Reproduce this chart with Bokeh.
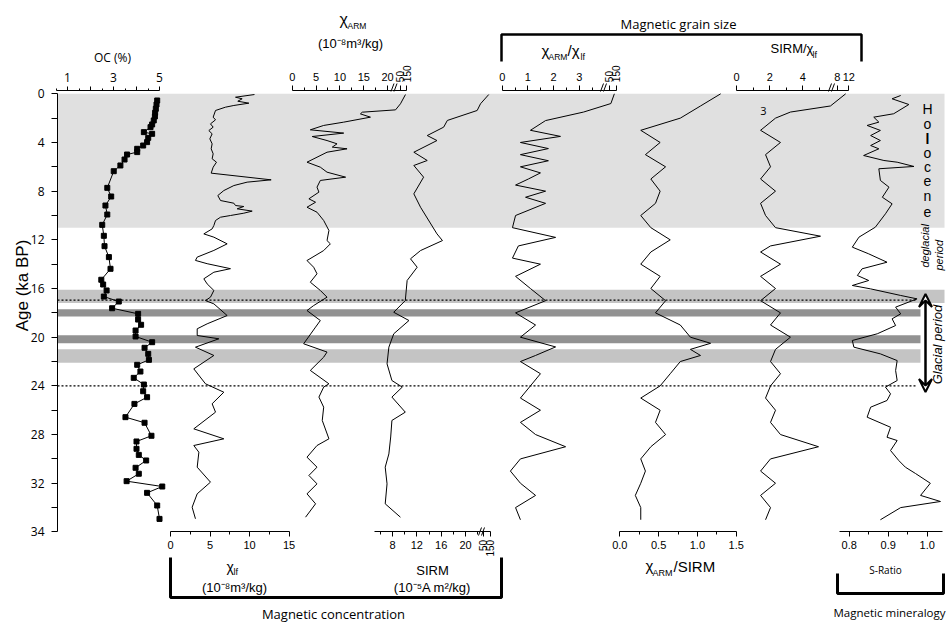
import math
import numpy as np
from bokeh.plotting import figure
from bokeh.models import Range1d, LinearAxis, FixedTicker, Label, Arrow, VeeHead
from bokeh.embed import file_html
from bokeh.resources import INLINE

# ---------------- data (ages in ka BP) ----------------
oc_age = [0.55, 0.88, 1.23, 1.56, 1.86, 2.19, 2.52, 2.74, 3.15, 3.29, 3.62, 3.97, 4.25, 4.52, 4.79, 4.99,
          5.40, 5.89, 6.36, 7.73, 8.44, 9.18, 9.92, 10.77, 11.67, 12.52, 13.42, 14.38, 15.28, 15.67, 16.16,
          16.66, 17.07, 17.62, 18.08, 18.55, 18.98, 19.45, 19.94, 20.41, 20.87, 21.37, 21.86, 22.27, 22.82,
          23.34, 23.89, 24.44, 24.93, 25.48, 26.57, 27.03, 28.10, 28.57, 29.17, 29.67, 30.13, 30.73, 31.22,
          31.83, 32.27, 32.79, 33.83, 34.93]
oc_val = [4.90, 4.87, 4.84, 4.81, 4.80, 4.75, 4.68, 4.61, 4.32, 4.68, 4.51, 4.46, 4.29, 4.03, 4.03, 3.59,
          3.48, 3.30, 3.01, 2.73, 2.90, 2.65, 2.73, 2.51, 2.58, 2.61, 2.80, 2.87, 2.47, 2.55, 2.70,
          2.58, 3.23, 2.94, 4.07, 4.07, 4.20, 3.96, 3.96, 4.68, 4.35, 4.51, 4.54, 4.03, 4.17,
          3.88, 4.32, 4.29, 4.46, 3.91, 3.52, 4.35, 4.65, 4.00, 4.00, 4.10, 4.42, 3.96, 4.10,
          3.57, 5.12, 4.46, 4.90, 5.00]

xlf_age = [0.06, 0.28, 0.41, 0.61, 0.77, 0.96, 1.10, 1.37, 1.92, 2.14, 2.47, 2.74, 3.02, 3.29, 3.70, 4.11,
           4.52, 4.93, 5.34, 5.62, 6.03, 6.52, 7.07, 7.26, 7.54, 7.95, 8.36, 8.77, 8.99, 9.18, 9.26, 9.45,
           9.64, 9.81, 10.0, 10.14, 10.41, 10.82, 11.1, 11.51, 11.78, 12.33, 12.87, 13.42, 13.69, 13.96,
           14.37, 14.66, 15.2, 15.62, 16.16, 16.71, 16.99, 17.26, 18.22, 18.9, 19.31, 19.86, 20.13, 20.82,
           21.5, 22.6, 23.83, 24.52, 25.47, 26.16, 27.53, 28.35, 28.9, 29.45, 30.68, 31.91, 32.87, 33.97, 34.92]
xlf_val = [10.63, 8.23, 9.07, 8.52, 9.92, 8.02, 6.96, 5.70, 5.40, 5.70, 5.06, 5.40, 4.85, 5.27, 4.98, 5.27,
           5.15, 5.40, 5.27, 5.82, 5.40, 5.15, 12.74, 9.70, 8.02, 6.75, 5.99, 6.33, 8.02, 8.23, 9.28, 8.44,
           10.34, 9.28, 7.59, 6.33, 5.70, 5.49, 5.27, 4.22, 5.49, 7.17, 5.49, 3.38, 3.16, 4.64,
           7.59, 5.49, 4.22, 4.64, 5.49, 5.06, 4.43, 5.49, 7.17, 4.64, 3.38, 3.38, 6.12, 3.16,
           5.49, 2.95, 4.43, 6.75, 5.27, 5.70, 2.95, 6.75, 2.95, 3.59, 3.38, 5.06, 3.38, 2.74, 3.16]

xarm_age = [0.06, 0.82, 1.32, 1.51, 1.65, 1.92, 2.33, 2.6, 2.96, 3.23, 3.51, 3.84, 4.11, 4.38, 4.52, 4.8,
            5.21, 5.62, 6.03, 6.44, 6.85, 7.12, 7.67, 8.08, 8.63, 8.91, 9.32, 9.73, 10.41, 11.23, 12.06,
            12.33, 12.88, 13.7, 14.25, 14.79, 15.48, 16.16, 16.71, 17.4, 17.81,
            18.63, 19.17, 20.54, 21.22, 21.64, 22.73, 23.83, 24.1, 24.92, 25.75, 26.84, 28.35, 28.9, 29.86,
            30.68, 31.36, 32.05, 32.87, 33.69, 34.79]
xarm_val = [132, 57, 39.2, 14.7, 14.3, 16.4, 10.8, 6.6, 3.8, 10.8, 4.2, 7.3, 9.4, 8.4, 11.5, 7.3,
            5.2, 3.1, 5.9, 7.3, 11.2, 5.9, 5.2, 5.6, 3.5, 4.9, 3.1, 5.2, 6.6, 7.7, 7.3,
            8.0, 6.6, 3.1, 4.5, 5.2, 3.8, 5.9, 7.3, 4.5, 3.1,
            5.9, 4.9, 2.4, 7.3, 6.6, 3.8, 7.7, 6.6, 5.6, 6.6, 6.3, 7.7, 5.2, 3.1,
            5.2, 3.5, 5.2, 3.1, 4.9, 2.8]

sirm_age = [0.06, 0.82, 1.37, 2.19, 2.74, 3.43, 3.84, 4.8, 5.48, 5.89, 6.85, 8.22, 9.32, 11.51, 12.06, 12.88,
            13.56, 14.25, 15.34, 16.99, 17.95, 18.63, 19.72, 20.82, 22.19, 23.56, 24.1, 24.92, 26.16, 26.84,
            28.2, 29.59, 30.68, 32.05, 33.69, 34.79]
sirm_val = [125, 35.4, 21.9, 17.0, 16.4, 13.7, 15.3, 11.5, 13.7, 11.5, 13.1, 11.5, 12.6, 15.3, 16.2, 12.6,
            10.95, 12.05, 10.4, 10.1, 8.2, 10.7, 8.2, 7.4, 7.1, 7.9, 9.6, 7.9, 10.1, 7.9,
            7.7, 7.4, 6.8, 7.1, 6.8, 9.3]

r1_age = [0, 0.8, 1.5, 2.2, 3, 3.5, 4, 4.5, 5, 5.5, 6, 6.5, 7, 7.5, 8, 8.5, 9, 10, 11, 11.8, 12.5, 13.5, 14,
          15, 16, 17, 18, 19, 20, 20.8, 21.5, 22, 23, 24, 25, 26, 27, 28, 29, 30, 31, 32, 33, 34, 35]
r1_val = [120, 70, 3.17, 1.69, 1.10, 2.27, 0.71, 1.80, 0.71, 1.80, 0.71, 1.49, 1.02, 0.52, 1.69, 0.91, 1.69,
          0.52, 0.40, 2.08, 0.63, 0.40, 1.49, 0.52, 1.10, 1.69, 0.52, 1.30, 0.71, 2.08, 1.30, 0.71, 1.49,
          1.10, 0.71, 1.49, 0.71, 1.30, 2.47, 0.71, 0.32, 0.71, 1.30, 0.52, 0.71]

r2_age = [0, 1, 2, 3, 4, 5, 6, 7, 8, 9, 10, 11, 12, 13, 14, 15, 16, 17, 18, 19, 20, 20.5, 21, 21.5, 22, 23,
          24, 25, 26, 27, 28, 29, 30, 31, 32, 33, 34, 35]
r2_val = [1.30, 1.04, 0.78, 0.27, 0.52, 0.33, 0.59, 0.40, 0.52, 0.46, 0.27, 0.40, 0.65, 0.40, 0.27, 0.52,
          0.40, 0.59, 0.46, 0.78, 0.91, 1.17, 0.91, 1.04, 0.78, 0.65, 0.52, 0.27, 0.52, 0.46, 0.59, 0.40,
          0.27, 0.33, 0.27, 0.20, 0.27, 0.27]

r3_age = [0, 1, 1.5, 2, 3, 4, 5, 6, 7, 8, 9, 10, 11, 11.7, 12.5, 13, 14, 15, 16, 17, 18, 19, 20, 21, 22,
          23, 24, 25, 26, 27, 28, 29, 30, 31, 32, 33, 34, 35]
r3_val = [10.9, 6.2, 3.25, 2.35, 1.45, 2.65, 1.75, 2.05, 1.45, 2.35, 1.45, 1.75, 2.35, 5.06, 2.05, 1.45,
          2.65, 1.45, 2.35, 1.45, 2.65, 2.05, 3.25, 2.35, 2.05, 2.65, 2.05, 1.75, 2.35, 2.05, 2.65, 4.94,
          2.05, 1.45, 2.35, 1.45, 2.05, 1.75]

sr_age = [0.14, 0.41, 0.88, 1.64, 1.92, 2.33, 2.6, 3.01, 3.43, 3.84, 4.25, 4.52, 5.07, 5.48, 5.62, 5.97,
          6.16, 7.12, 7.67, 8.5, 9.04, 9.86, 10.96, 11.78, 12.6, 13.15, 13.84, 14.38, 14.93, 15.34, 15.75,
          16.03, 16.57, 16.85, 17.53, 18.08, 18.49, 19.04, 19.72, 20.27, 20.82, 21.37, 21.92, 22.74, 23.56,
          24.1, 24.65, 25.2, 25.75, 26.57, 27.4, 28.22, 28.49, 29.31, 30.13, 30.68, 31.2, 32.0, 33.0, 33.5,
          34.0, 35.0]
sr_val = [0.932, 0.910, 0.953, 0.914, 0.863, 0.876, 0.846, 0.880, 0.855, 0.880, 0.855, 0.876, 0.837, 0.889,
          0.923, 0.966, 0.876, 0.880, 0.902, 0.885, 0.910, 0.893, 0.867, 0.825, 0.808, 0.850, 0.897, 0.833,
          0.821, 0.850, 0.808, 0.855, 0.932, 0.974, 0.919, 0.932, 0.910, 0.919, 0.872, 0.808, 0.812, 0.880,
          0.923, 0.919, 0.923, 0.893, 0.906, 0.897, 0.855, 0.846, 0.906, 0.897, 0.923, 0.906, 0.927, 0.944,
          0.970, 1.008, 0.983, 1.034, 0.932, 0.880]

# shaded intervals (ka BP)
band_top = [0.0, 16.1, 17.7, 19.85, 21.0]
band_bot = [11.0, 17.2, 18.3, 20.5, 22.1]
band_col = ["#e0e0e0", "#c4c4c4", "#929292", "#929292", "#c4c4c4"]
band_right = [944, 944, 920, 920, 920]
dotted_ages = [16.95, 24.0]
glacial_span = (16.45, 24.5)

# ---------------- layout ----------------
W, H = 946, 623
Y0, KPX = 93.3, 12.17          # page y of age 0, pixels per ka
XAX = 57                        # page x of age axis
TOP_LOC, BOT_LOC = -0.3, 36.0   # axis positions in ka

# page-x = a + b * value for each panel
SC = {"oc": (44.0, 23.0), "xlf": (170.0, 7.9), "xarm": (291.7, 4.77), "sirm": (343.3, 6.09),
      "r1": (501.7, 25.67), "r2": (619.3, 77.6), "r3": (736.0, 16.6), "sr": (536.7, 390.0)}
# broken-axis knots (real value -> axis units)
BRK = {"xarm": ([0, 20, 50, 150], [0, 20, 22.6, 24.0]),
       "sirm": ([0, 22, 50, 150], [0, 22, 22.94, 24.09]),
       "r1": ([0, 3.9, 50, 150], [0, 3.9, 4.18, 4.45]),
       "r3": ([0, 5.5, 8, 12], [0, 5.5, 6.07, 6.77])}


def brk(name, v):
    kr, kd = BRK[name]
    return list(np.interp(np.asarray(v, dtype=float), kr, kd))


p = figure(width=W, height=H, x_range=Range1d(0, W), y_range=Range1d((H - Y0) / KPX, -Y0 / KPX),
           output_backend="svg", toolbar_location=None, x_axis_location=None, y_axis_location=None,
           min_border=0)
p.outline_line_color = None
p.xgrid.grid_line_color = None
p.ygrid.grid_line_color = None
p.extra_y_ranges = {"pg": Range1d(H, 0)}
for k, (a, b) in SC.items():
    p.extra_x_ranges[k] = Range1d((0 - a) / b, (W - a) / b)

# bands and guide lines
p.quad(left=[XAX] * len(band_top), right=band_right, top=band_top, bottom=band_bot,
       fill_color=band_col, line_color=None)
p.segment(x0=[XAX] * 2, x1=[917] * 2, y0=dotted_ages, y1=dotted_ages, line_color="black",
          line_width=1.3, line_dash="2 2")

# curves
LW = 1.0
p.line(oc_val, oc_age, x_range_name="oc", line_color="black", line_width=LW)
p.scatter(oc_val, oc_age, x_range_name="oc", marker="square", size=5, color="black")
p.line(xlf_val, xlf_age, x_range_name="xlf", line_color="black", line_width=LW)
p.line(brk("xarm", xarm_val), xarm_age, x_range_name="xarm", line_color="black", line_width=LW)
p.line(brk("sirm", sirm_val), sirm_age, x_range_name="sirm", line_color="black", line_width=LW)
p.line(brk("r1", r1_val), r1_age, x_range_name="r1", line_color="black", line_width=LW)
p.line(r2_val, r2_age, x_range_name="r2", line_color="black", line_width=LW)
p.line(brk("r3", r3_val), r3_age, x_range_name="r3", line_color="black", line_width=LW)
p.line(sr_val, sr_age, x_range_name="sr", line_color="black", line_width=LW)


def axis(side, rng, loc, bounds, major, minor=(), overrides=None, orient="horizontal",
         font="Liberation Sans", size="11px", standoff=4, tout=5, mout=3):
    kw = dict(fixed_location=loc, bounds=bounds,
              ticker=FixedTicker(ticks=list(major), minor_ticks=list(minor)),
              major_tick_out=tout, major_tick_in=0, minor_tick_out=mout, minor_tick_in=0,
              major_label_text_font=font, major_label_text_font_size=size,
              major_label_text_color="black", axis_line_color="black",
              major_tick_line_color="black", minor_tick_line_color="black",
              major_label_standoff=standoff, axis_line_width=1,
              major_label_orientation=orient)
    if side in ("above", "below"):
        kw["x_range_name"] = rng
    ax = LinearAxis(**kw)
    if overrides:
        ax.major_label_overrides = overrides
    p.add_layout(ax, side)
    return ax


V = math.pi / 2
# age axis
axis("left", None, XAX, (0, 36), list(range(0, 37, 2)), [],
     overrides={**{k: "" for k in range(2, 36, 4)}, 36: "34"}, font="Open Sans", size="12px",
     standoff=7, tout=6)
# top axes
axis("above", "oc", TOP_LOC, (0.5, 5), [1, 2, 3, 4, 5], [0.5, 1.5, 2.5, 3.5, 4.5],
     overrides={2: "", 4: ""}, font="Open Sans", size="12px", tout=4, mout=2)
axis("above", "xarm", TOP_LOC, (0, 21.0), [0, 5, 10, 15, 20], [2.5, 7.5, 12.5, 17.5])
bx = brk("xarm", [50, 150])
axis("above", "xarm", TOP_LOC, (21.0, bx[1]), bx, [], overrides={bx[0]: "50", bx[1]: "150"},
     orient=V, size="10px", standoff=3)
axis("above", "r1", TOP_LOC, (0, 3.95), [0, 1, 2, 3], [0.5, 1.5, 2.5, 3.5])
b1 = brk("r1", [50, 150])
axis("above", "r1", TOP_LOC, (3.95, b1[1]), b1, [], overrides={b1[0]: "50", b1[1]: "150"},
     orient=V, size="10px", standoff=3)
b3 = brk("r3", [8, 12])
axis("above", "r3", TOP_LOC, (0, b3[1]), [0, 2, 4] + b3, [1, 3, 5],
     overrides={b3[0]: "8", b3[1]: "12"})
# bottom axes
axis("below", "xlf", BOT_LOC, (0, 15), [0, 5, 10, 15], [2.5, 7.5, 12.5])
axis("below", "sirm", BOT_LOC, (5.0, 22.5), [8, 12, 16, 20], [6, 10, 14, 18, 22])
bs = brk("sirm", [50, 150])
axis("below", "sirm", BOT_LOC, (22.5, bs[1]), bs, [], overrides={bs[0]: "50", bs[1]: "150"},
     orient=V, size="10px", standoff=3)
axis("below", "r2", BOT_LOC, (0, 1.5), [0, 0.5, 1, 1.5], [0.25, 0.75, 1.25],
     overrides={0: "0.0", 1: "1.0"})
axis("below", "sr", BOT_LOC, (0.775, 1.04), [0.8, 0.9, 1], [0.85, 0.95], overrides={1: "1.0"})

# axis break marks
for bxp, y1, y2 in [(392.5, 91, 83), (602, 91, 83), (830, 91, 83), (480, 535, 527)]:
    p.segment(x0=[bxp - 2, bxp + 1], x1=[bxp + 1, bxp + 4], y0=[y1, y1], y1=[y2, y2],
              y_range_name="pg", line_color="black", line_width=1)


def lab(x, y, text, size=13, font="Liberation Sans", align="center", angle=0, style="normal",
        baseline="middle"):
    p.add_layout(Label(x=x, y=y, y_range_name="pg", text=text, text_font=font,
                       text_font_size=f"{size}px", text_align=align, text_baseline=baseline,
                       angle=angle, text_font_style=style, text_color="black"))


def pline(xs, ys, w=2.5):
    p.line(xs, ys, y_range_name="pg", line_color="black", line_width=w)


# top titles
lab(112, 57, "OC (%)", 12, "Open Sans")
lab(339, 19, "χ", 16, align="left")
lab(347, 25, "ARM", 8.5, align="left")
lab(350, 43, "(10⁻⁸m³/kg)", 13)
lab(678, 23, "Magnetic grain size", 13, "Open Sans")
pline([501, 501, 861, 861], [61, 34, 34, 61])
lab(541, 50, "χ", 15, align="left")
lab(548, 56, "ARM", 8.5, align="left")
lab(567, 50, "/χ", 15, align="left")
lab(580, 56, "lf", 9, align="left")
lab(770, 48, "SIRM/χ", 13, align="left")
lab(812, 54, "lf", 9, align="left")
lab(763, 110, "3", 11, "Open Sans")

# bottom titles
lab(226, 566, "χ", 14, align="left")
lab(233, 571, "lf", 9, align="left")
lab(234, 587, "(10⁻⁸m³/kg)", 13)
lab(432, 570, "SIRM", 13)
lab(432, 587, "(10⁻⁵A m²/kg)", 13)
pline([170, 170, 501, 501], [557, 597, 597, 557], 3)
lab(333, 613, "Magnetic concentration", 13, "Open Sans")
lab(645, 565, "χ", 15, align="left")
lab(652, 572, "ARM", 9, align="left")
lab(673, 566, "/SIRM", 15, align="left")
lab(885, 569, "S-Ratio", 10, "Open Sans")
pline([837, 837, 943, 943], [573, 593, 593, 573], 3)
lab(889, 612, "Magnetic mineralogy", 11.5, "Open Sans")

# age axis title
lab(22, 285, "Age (ka BP)", 17, angle=V)

# right-hand annotations
for ch, yy in zip("Holocene", [108, 123, 138, 152, 166, 180, 195, 211]):
    lab(927, yy, ch, 14, style="bold" if ch == "l" else "normal")
lab(924, 267, "deglacial", 11, align="left", angle=V, style="italic")
lab(938, 270, "period", 11, align="left", angle=V, style="italic")
lab(937, 344, "Glacial period", 13, angle=V, style="italic")
p.add_layout(Arrow(x_start=925, x_end=925, y_start=glacial_span[1], y_end=glacial_span[0],
                   line_width=2.5, line_color="black",
                   start=VeeHead(size=13, fill_color="white", line_color="black", line_width=2),
                   end=VeeHead(size=13, fill_color="white", line_color="black", line_width=2)))

open("out.html", "w").write(file_html(p, INLINE))
